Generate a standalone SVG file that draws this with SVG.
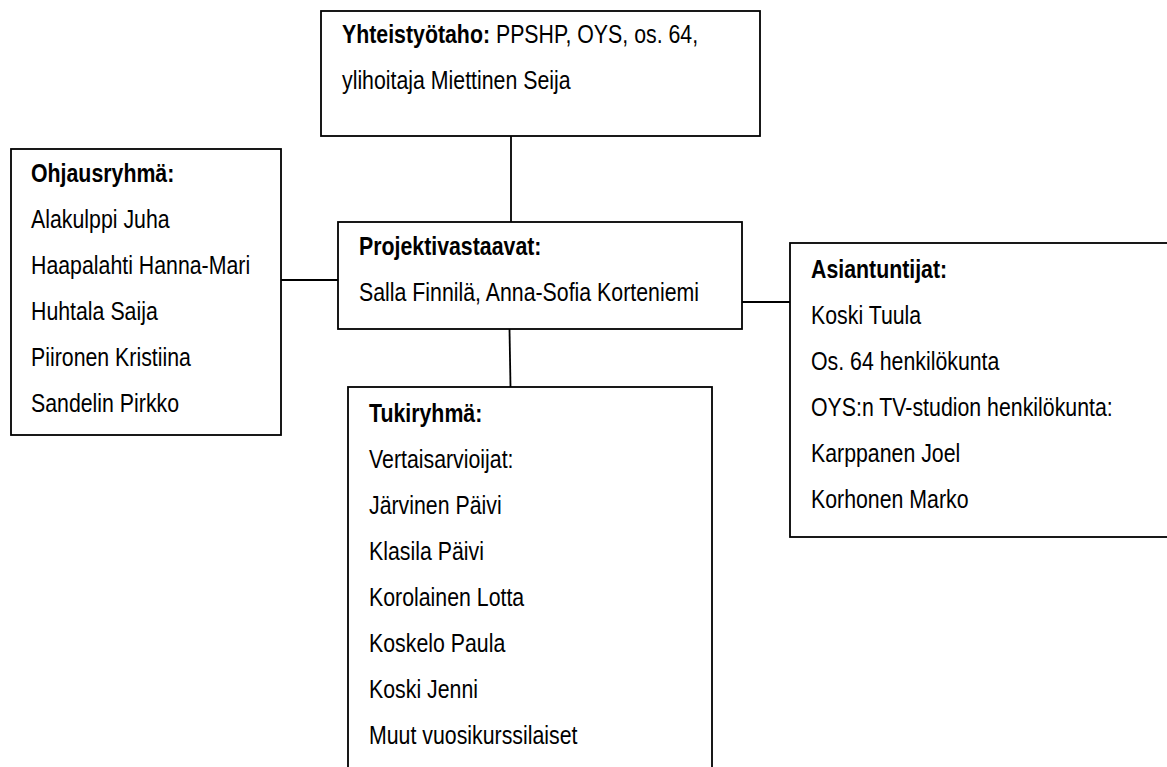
<svg xmlns="http://www.w3.org/2000/svg" width="1167" height="767" viewBox="0 0 1167 767">
<style>
.box{fill:#fff;stroke:#000;stroke-width:1.8}
.con{stroke:#000;stroke-width:1.8;fill:none}
text{font-family:"Liberation Sans",Arial,sans-serif;font-size:26px;fill:#000}
.b{font-weight:bold}
</style>
<rect width="1167" height="767" fill="#fff"/>
<g id="connectors">
<line class="con" x1="511" y1="136" x2="511" y2="222"/>
<line class="con" x1="281" y1="280" x2="338" y2="280"/>
<line class="con" x1="742" y1="302" x2="790" y2="302"/>
<line class="con" x1="509.5" y1="329" x2="510.5" y2="387"/>
</g>
<g id="yhteistyotaho">
<rect class="box" x="321" y="11" width="439" height="125"/>
<g transform="translate(342,0) scale(0.82,1)">
<text x="0" y="43"><tspan class="b">Yhteistyötaho:</tspan> PPSHP, OYS, os. 64,</text>
<text x="0" y="89">ylihoitaja Miettinen Seija</text>
</g>
</g>
<g id="ohjausryhma">
<rect class="box" x="11" y="149" width="270" height="286"/>
<g transform="translate(31,0) scale(0.82,1)">
<text x="0" y="182" class="b">Ohjausryhmä:</text>
<text x="0" y="228">Alakulppi Juha</text>
<text x="0" y="274">Haapalahti Hanna-Mari</text>
<text x="0" y="320">Huhtala Saija</text>
<text x="0" y="366">Piironen Kristiina</text>
<text x="0" y="412">Sandelin Pirkko</text>
</g>
</g>
<g id="projektivastaavat">
<rect class="box" x="338" y="222" width="404" height="107"/>
<g transform="translate(359,0) scale(0.82,1)">
<text x="0" y="255" class="b">Projektivastaavat:</text>
<text x="0" y="301">Salla Finnilä, Anna-Sofia Korteniemi</text>
</g>
</g>
<g id="asiantuntijat">
<rect class="box" x="790" y="243" width="400" height="294"/>
<g transform="translate(811,0) scale(0.82,1)">
<text x="0" y="278" class="b">Asiantuntijat:</text>
<text x="0" y="324">Koski Tuula</text>
<text x="0" y="370">Os. 64 henkilökunta</text>
<text x="0" y="416">OYS:n TV-studion henkilökunta:</text>
<text x="0" y="462">Karppanen Joel</text>
<text x="0" y="508">Korhonen Marko</text>
</g>
</g>
<g id="tukiryhma">
<rect class="box" x="348" y="387" width="364" height="400"/>
<g transform="translate(369,0) scale(0.82,1)">
<text x="0" y="422" class="b">Tukiryhmä:</text>
<text x="0" y="468">Vertaisarvioijat:</text>
<text x="0" y="514">Järvinen Päivi</text>
<text x="0" y="560">Klasila Päivi</text>
<text x="0" y="606">Korolainen Lotta</text>
<text x="0" y="652">Koskelo Paula</text>
<text x="0" y="698">Koski Jenni</text>
<text x="0" y="744">Muut vuosikurssilaiset</text>
</g>
</g>
</svg>
